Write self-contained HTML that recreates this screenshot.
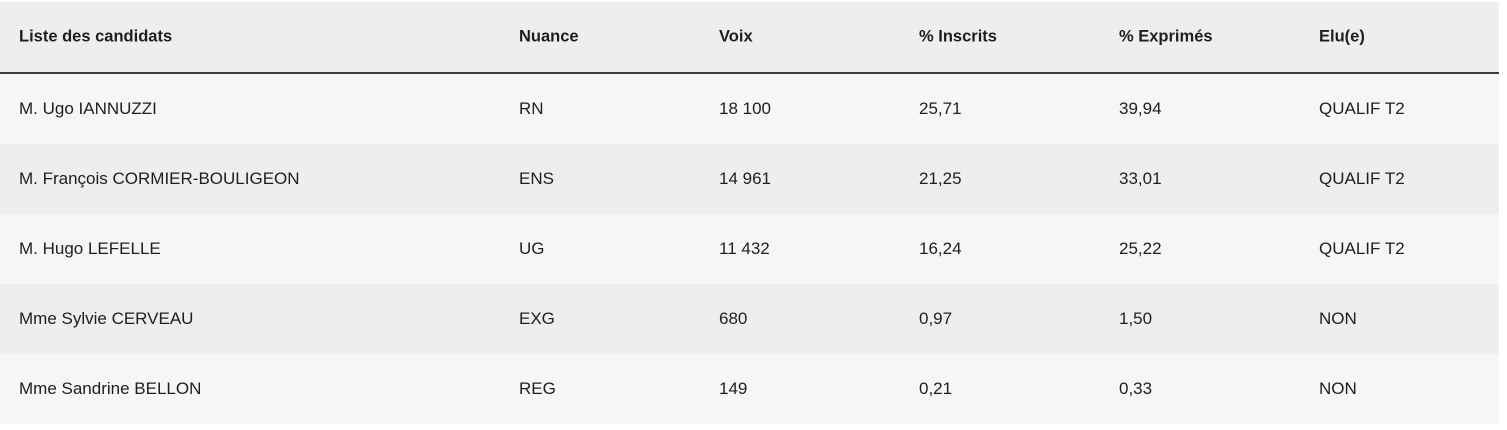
<!DOCTYPE html>
<html><head><meta charset="utf-8"><style>
body{margin:0;background:#fff;width:1507px;height:430px;overflow:hidden;font-family:"Liberation Sans",sans-serif;color:#1e1e1e}
.t{position:absolute;left:0;top:2px;width:1499px}
.r{position:relative;height:70px}
.r span{position:absolute;top:50%;transform:translateY(-50%);font-size:17px}
.h{background:#eeeeee;height:70px;border-bottom:2px solid #3a3a3a;font-weight:bold}
.h span{font-size:16.5px}
.a{background:#f6f6f6}.b{background:#eeeeee}
</style></head><body><div class="t">
<div class="r h"><span style="left:19px">Liste des candidats</span><span style="left:519px">Nuance</span><span style="left:719px">Voix</span><span style="left:919px">% Inscrits</span><span style="left:1119px">% Exprimés</span><span style="left:1319px">Elu(e)</span></div>
<div class="r a"><span style="left:19px">M. Ugo IANNUZZI</span><span style="left:519px">RN</span><span style="left:719px">18 100</span><span style="left:919px">25,71</span><span style="left:1119px">39,94</span><span style="left:1319px">QUALIF T2</span></div>
<div class="r b"><span style="left:19px">M. François CORMIER-BOULIGEON</span><span style="left:519px">ENS</span><span style="left:719px">14 961</span><span style="left:919px">21,25</span><span style="left:1119px">33,01</span><span style="left:1319px">QUALIF T2</span></div>
<div class="r a"><span style="left:19px">M. Hugo LEFELLE</span><span style="left:519px">UG</span><span style="left:719px">11 432</span><span style="left:919px">16,24</span><span style="left:1119px">25,22</span><span style="left:1319px">QUALIF T2</span></div>
<div class="r b"><span style="left:19px">Mme Sylvie CERVEAU</span><span style="left:519px">EXG</span><span style="left:719px">680</span><span style="left:919px">0,97</span><span style="left:1119px">1,50</span><span style="left:1319px">NON</span></div>
<div class="r a"><span style="left:19px">Mme Sandrine BELLON</span><span style="left:519px">REG</span><span style="left:719px">149</span><span style="left:919px">0,21</span><span style="left:1119px">0,33</span><span style="left:1319px">NON</span></div>
</div></body></html>
